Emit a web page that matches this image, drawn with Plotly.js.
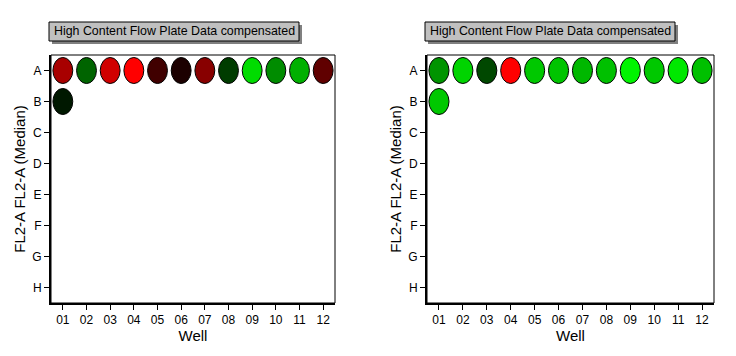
<!DOCTYPE html>
<html>
<head>
<meta charset="utf-8">
<script src="https://cdn.plot.ly/plotly-3.0.1.min.js"></script>
<style>html,body{margin:0;padding:0;background:#fff;}#chart{width:736px;height:356px;}</style>
</head>
<body>
<div id="chart"></div>
<script>
// Well plate data
const wellLabels = ["01","02","03","04","05","06","07","08","09","10","11","12"];
const rowLabels = ["A","B","C","D","E","F","G","H"];
// occupied wells: column number and row letter
const wellCols = [1,2,3,4,5,6,7,8,9,10,11,12,1];
const wellRows = ["A","A","A","A","A","A","A","A","A","A","A","A","B"];
// colour of each well (median FL2-A mapped red-green) for each panel
const leftColors = ["#A80000","#006400","#D00000","#FF0000","#400000","#1C0000","#880000","#003C00","#00DC00","#008C00","#00B000","#600000","#001800"];
const rightColors = ["#009400","#00D400","#004800","#FF0000","#00C800","#00C400","#00B800","#00C000","#00F400","#00C800","#00E800","#00C000","#00C800"];
const panelTitle = "High Content Flow Plate Data compensated";
const xTitle = "Well";
const yTitle = "FL2-A FL2-A (Median)";

const font = "Liberation Sans, Arial, sans-serif";
const rowIndex = wellRows.map(r => rowLabels.indexOf(r));

function axisX(domain, anchor) {
  return {
    domain: domain, anchor: anchor, range: [0.5, 12.5],
    tickvals: wellLabels.map((_, i) => i + 1), ticktext: wellLabels,
    ticks: "outside", ticklen: 5, tickwidth: 1, tickcolor: "#000",
    showline: true, linewidth: 2, linecolor: "#000", mirror: false,
    showgrid: false, zeroline: false, fixedrange: true,
    tickfont: {family: font, size: 12, color: "#000"},
    title: {text: xTitle, font: {family: font, size: 15, color: "#000"}, standoff: 2}
  };
}
function axisY(domain, anchor) {
  return {
    domain: domain, anchor: anchor, range: [7.5, -0.5],
    tickvals: rowLabels.map((_, i) => i), ticktext: rowLabels,
    ticks: "outside", ticklen: 5, tickwidth: 1, tickcolor: "#000",
    showline: true, linewidth: 2, linecolor: "#000", mirror: false,
    showgrid: false, zeroline: false, fixedrange: true,
    tickfont: {family: font, size: 12, color: "#000"},
    title: {text: yTitle, font: {family: font, size: 15, color: "#000"}, standoff: 3}
  };
}

const dom1 = [51/736, 335/736], dom2 = [427/736, 714/736];
const ydom = [53/356, 301/356];

const traces = [
  {x: wellCols, y: rowIndex, xaxis: "x", yaxis: "y", type: "scatter", mode: "markers",
   marker: {size: 20, color: leftColors, opacity: 0}, hoverinfo: "x+y", showlegend: false},
  {x: wellCols, y: rowIndex, xaxis: "x2", yaxis: "y2", type: "scatter", mode: "markers",
   marker: {size: 20, color: rightColors, opacity: 0}, hoverinfo: "x+y", showlegend: false}
];

const shapes = [];
const annotations = [];
[[dom1, leftColors, "x", "y"], [dom2, rightColors, "x2", "y2"]].forEach(([dom, cols, xr, yr]) => {
  // thin frame around plot
  shapes.push({type: "rect", xref: "paper", yref: "paper", x0: dom[0], x1: dom[1], y0: ydom[0], y1: ydom[1],
    line: {color: "#000", width: 1}, layer: "below"});
  // wells as ellipses
  wellCols.forEach((c, i) => {
    const r = rowIndex[i];
    shapes.push({type: "circle", xref: xr, yref: yr, x0: c - 0.42, x1: c + 0.42, y0: r - 0.42, y1: r + 0.42,
      fillcolor: cols[i], line: {color: "#000", width: 1}, layer: "above"});
  });
  // title box shadow
  shapes.push({type: "rect", xref: "paper", yref: "paper",
    x0: (dom[0]*736 + 1)/736, x1: (dom[0]*736 + 251)/736, y0: (356-44)/356, y1: (356-25)/356,
    fillcolor: "#808080", line: {width: 0}});
  shapes.push({type: "rect", xref: "paper", yref: "paper",
    x0: (dom[0]*736 - 2)/736, x1: (dom[0]*736 + 248)/736, y0: (356-41)/356, y1: (356-22)/356,
    fillcolor: "#C0C0C0", line: {color: "#000", width: 1}});
  annotations.push({text: panelTitle, xref: "paper", yref: "paper",
    x: (dom[0]*736 + 123)/736, y: (356-31.5)/356, xanchor: "center", yanchor: "middle",
    showarrow: false, font: {family: font, size: 12.4, color: "#000"}});
});

const layout = {
  width: 736, height: 356,
  margin: {l: 0, r: 0, t: 0, b: 0},
  paper_bgcolor: "#fff", plot_bgcolor: "#fff",
  xaxis: axisX(dom1, "y"), yaxis: axisY(ydom, "x"),
  xaxis2: axisX(dom2, "y2"), yaxis2: axisY(ydom, "x2"),
  shapes: shapes, annotations: annotations, showlegend: false
};

Plotly.newPlot("chart", traces, layout, {displayModeBar: false, staticPlot: true});
</script>
</body>
</html>
